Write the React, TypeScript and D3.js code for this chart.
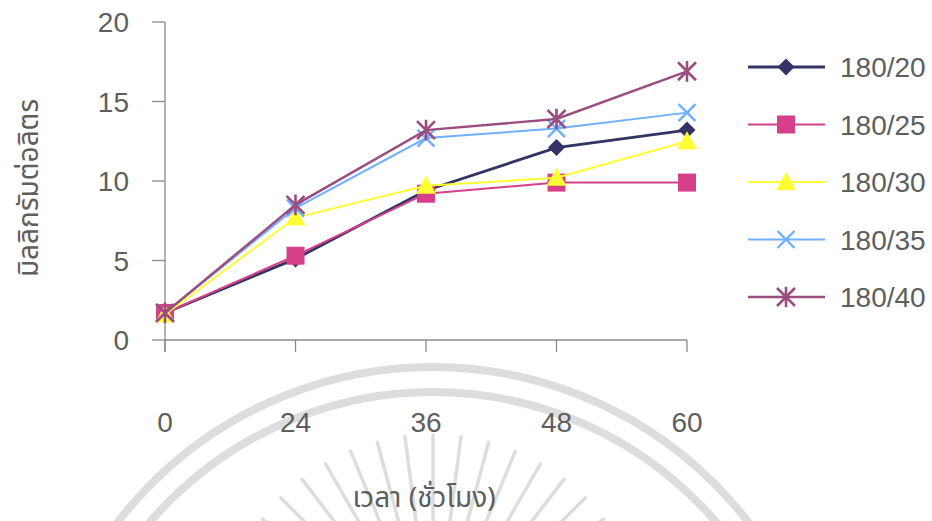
import React from "react";
import * as d3 from "d3";

const hours = ["0", "24", "36", "48", "60"];
const yTicks = [0, 5, 10, 15, 20];

const s180_20 = [1.7, 5.1, 9.4, 12.1, 13.2];
const s180_25 = [1.7, 5.3, 9.2, 9.9, 9.9];
const s180_30 = [1.6, 7.7, 9.7, 10.2, 12.5];
const s180_35 = [1.7, 8.3, 12.7, 13.3, 14.3];
const s180_40 = [1.7, 8.5, 13.2, 13.9, 16.9];

const seriesNames = ["180/20", "180/25", "180/30", "180/35", "180/40"];

type Marker = "diamond" | "square" | "triangle" | "x" | "star";

const series = [
  { name: seriesNames[0], values: s180_20, color: "#333366", marker: "diamond" as Marker, width: 2.8 },
  { name: seriesNames[1], values: s180_25, color: "#d6408a", marker: "square" as Marker, width: 2 },
  { name: seriesNames[2], values: s180_30, color: "#ffff33", marker: "triangle" as Marker, width: 2 },
  { name: seriesNames[3], values: s180_35, color: "#6fb0ff", marker: "x" as Marker, width: 2 },
  { name: seriesNames[4], values: s180_40, color: "#9b4d80", marker: "star" as Marker, width: 2.4 },
];

const W = 932;
const H = 521;
const plot = { left: 165, right: 687, top: 22, bottom: 340 };

const x = d3.scalePoint<string>().domain(hours).range([plot.left, plot.right]);
const y = d3.scaleLinear().domain([0, 20]).range([plot.bottom, plot.top]);

const numFont = "'Liberation Sans', Arial, sans-serif";
const thaiFont = "'Noto Sans Thai', 'Tlwg Typist', 'Garuda', 'Loma', 'Norasi', 'Liberation Sans', sans-serif";

function MarkerShape({ kind, cx, cy, color }: { kind: Marker; cx: number; cy: number; color: string }) {
  if (kind === "diamond") {
    const r = 8.5;
    return <path d={`M${cx},${cy - r}L${cx + r},${cy}L${cx},${cy + r}L${cx - r},${cy}Z`} fill={color} />;
  }
  if (kind === "square") {
    const r = 9;
    return <rect x={cx - r} y={cy - r} width={2 * r} height={2 * r} fill={color} />;
  }
  if (kind === "triangle") {
    const r = 10;
    return <path d={`M${cx},${cy - r}L${cx + r},${cy + r * 0.8}L${cx - r},${cy + r * 0.8}Z`} fill={color} />;
  }
  if (kind === "x") {
    const r = 8.5;
    return (
      <path
        d={`M${cx - r},${cy - r}L${cx + r},${cy + r}M${cx - r},${cy + r}L${cx + r},${cy - r}`}
        stroke={color}
        strokeWidth={2.4}
        fill="none"
      />
    );
  }
  const r = 9;
  return (
    <path
      d={`M${cx - r},${cy - r}L${cx + r},${cy + r}M${cx - r},${cy + r}L${cx + r},${cy - r}M${cx},${cy - r * 1.15}L${cx},${cy + r * 1.15}`}
      stroke={color}
      strokeWidth={2.6}
      fill="none"
    />
  );
}

// Faint circular seal behind the lower part of the chart
function Seal() {
  const cx = 433;
  const cy = 765;
  const rays = d3.range(-150, -29, 7.5);
  return (
    <g fill="none" stroke="#dddddd">
      <circle cx={cx} cy={cy} r={398} strokeWidth={8} />
      <circle cx={cx} cy={cy} r={373} strokeWidth={8} />
      {rays.map((a, i) => {
        const rad = (a * Math.PI) / 180;
        const c0 = { x: cx, y: 650 };
        const r0 = 125;
        const r1 = 215;
        return (
          <line
            key={i}
            x1={c0.x + r0 * Math.cos(rad)}
            y1={c0.y + r0 * Math.sin(rad)}
            x2={c0.x + r1 * Math.cos(rad)}
            y2={c0.y + r1 * Math.sin(rad)}
            strokeWidth={3.5}
            strokeLinecap="round"
          />
        );
      })}
    </g>
  );
}

export default function App() {
  const line = d3
    .line<number>()
    .x((_, i) => x(hours[i]) as number)
    .y((v) => y(v));

  const legendY = d3.scaleLinear().domain([0, 4]).range([67, 297]);

  return (
    <svg
      width={W}
      height={H}
      style={{ position: "absolute", left: 0, top: 0, background: "#fff" }}
    >
      <rect width={W} height={H} fill="#fff" />
      <Seal />

      {/* axes */}
      <g stroke="#8a8a8a" strokeWidth={1.3}>
        <line x1={plot.left} x2={plot.left} y1={plot.top} y2={plot.bottom + 12} />
        <line x1={plot.left} x2={plot.right} y1={plot.bottom} y2={plot.bottom} />
        {yTicks.map((t) => (
          <line key={t} x1={plot.left - 13} x2={plot.left} y1={y(t)} y2={y(t)} />
        ))}
        {hours.map((h) => (
          <line key={h} x1={x(h)} x2={x(h)} y1={plot.bottom} y2={plot.bottom + 12} />
        ))}
      </g>

      {yTicks.map((t) => (
        <text
          key={t}
          x={129}
          y={y(t)}
          dy="0.36em"
          textAnchor="end"
          fontFamily={numFont}
          fontSize={28}
          fill="#5e5e5e"
        >
          {t}
        </text>
      ))}
      {hours.map((h) => (
        <text
          key={h}
          x={x(h)}
          y={432}
          textAnchor="middle"
          fontFamily={numFont}
          fontSize={28}
          fill="#5e5e5e"
        >
          {h}
        </text>
      ))}

      <text x={424} y={507} textAnchor="middle" fontFamily={thaiFont} fontSize={28} fill="#5e5e5e">
        เวลา (ชั่วโมง)
      </text>
      <text
        transform="translate(38,188) rotate(-90)"
        textAnchor="middle"
        fontFamily={thaiFont}
        fontSize={28}
        fill="#5e5e5e"
      >
        มิลลิกรัมต่อลิตร
      </text>

      {series.map((s) => (
        <g key={s.name}>
          <path d={line(s.values) || ""} fill="none" stroke={s.color} strokeWidth={s.width} />
          {s.values.map((v, i) => (
            <MarkerShape key={i} kind={s.marker} cx={x(hours[i]) as number} cy={y(v)} color={s.color} />
          ))}
        </g>
      ))}

      {series.map((s, i) => {
        const ly = legendY(i);
        return (
          <g key={s.name}>
            <line x1={748} x2={825} y1={ly} y2={ly} stroke={s.color} strokeWidth={s.width} />
            <MarkerShape kind={s.marker} cx={786} cy={ly} color={s.color} />
            <text x={840} y={ly} dy="0.36em" fontFamily={numFont} fontSize={28} fill="#5e5e5e">
              {s.name}
            </text>
          </g>
        );
      })}
    </svg>
  );
}
